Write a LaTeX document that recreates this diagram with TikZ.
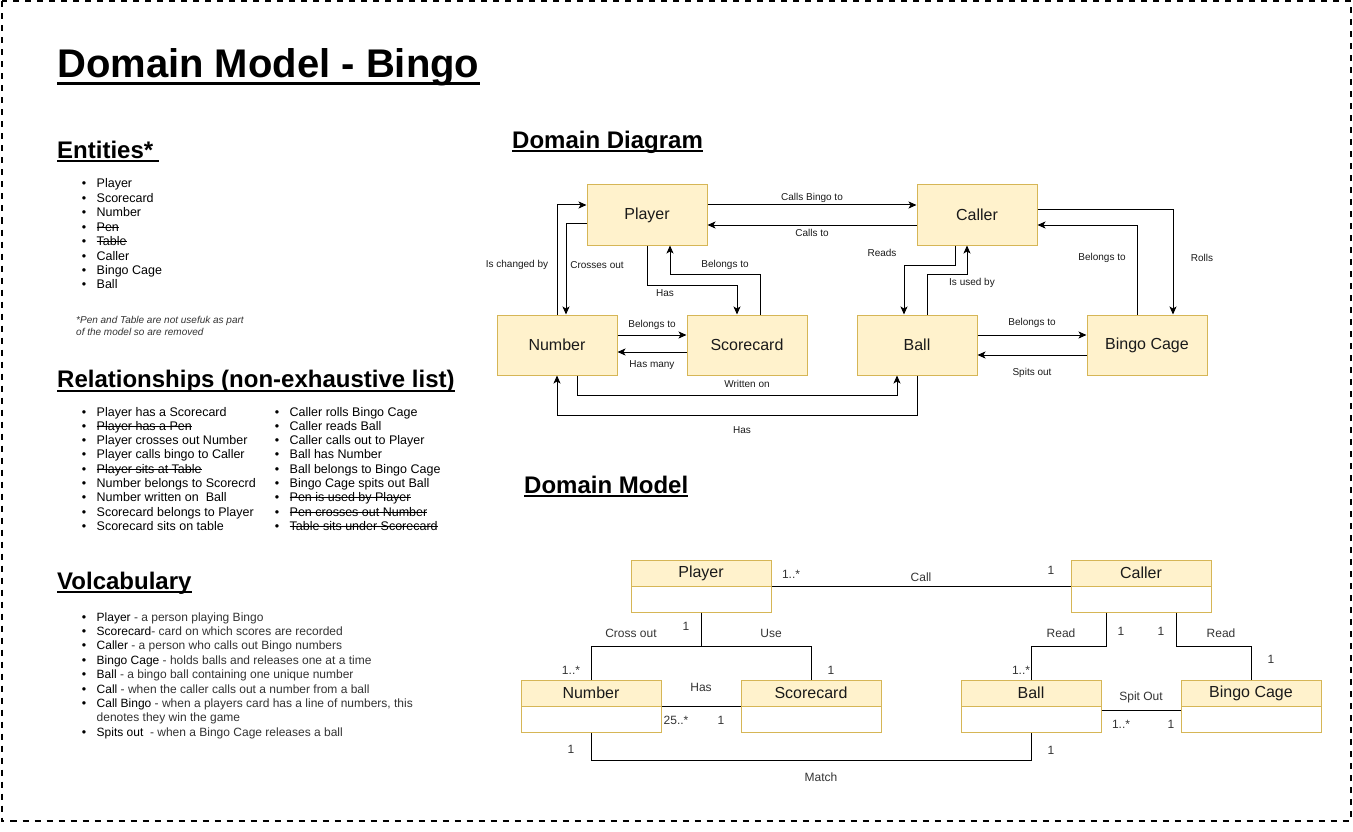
\documentclass[tikz,border=0pt]{standalone}
\usepackage{fontspec}
\setmainfont{Liberation Sans}
\usetikzlibrary{arrows.meta}
\definecolor{boxfill}{HTML}{FFF2CC}
\definecolor{boxdraw}{HTML}{D6B656}
\definecolor{txt}{HTML}{1A1A1A}
\definecolor{gtxt}{HTML}{333333}
\newcommand\strk[1]{\setbox0\hbox{#1}\rlap{\copy0}\rule[0.27em]{\wd0}{0.075em}}
\tikzset{
 ddbox/.style={draw=boxdraw, fill=boxfill, line width=1pt, minimum width=120pt, minimum height=60pt, inner sep=0pt, font=\fontsize{16pt}{19pt}\selectfont, text=txt},
 arr/.style={-{Stealth[length=8pt,width=7pt,inset=2pt]}, line width=1pt},
 lbl/.style={font=\fontsize{10pt}{12pt}\selectfont, text=txt, inner sep=0pt},
 hdr/.style={draw=boxdraw, fill=boxfill, line width=1pt, minimum width=140pt, minimum height=26pt, inner sep=0pt, font=\fontsize{16pt}{19pt}\selectfont, text=txt},
 bdy/.style={draw=boxdraw, fill=white, line width=1pt, minimum width=140pt, minimum height=26pt, inner sep=0pt},
 ulbl/.style={font=\fontsize{12pt}{14pt}\selectfont, text=gtxt, inner sep=0pt},
 uline/.style={line width=1pt},
 head/.style={anchor=base west, inner sep=0pt, font=\bfseries\fontsize{24pt}{28pt}\selectfont},
 li/.style={anchor=base west, inner sep=0pt, font=\fontsize{12.5pt}{15pt}\selectfont},
 bul/.style={anchor=base, inner sep=0pt, font=\fontsize{12.5pt}{15pt}\selectfont},
 vli/.style={anchor=base west, inner sep=0pt, font=\fontsize{12pt}{14pt}\selectfont},
}
\begin{document}
\begin{tikzpicture}[x=1pt,y=-1pt]
\useasboundingbox (0,0) rectangle (1353,832);
\draw[line width=2pt, dash pattern=on 6pt off 6pt] (1.5,1.5) rectangle (1351,820.5);

% ---------- Title ----------
\node[anchor=base west, inner sep=0pt, font=\bfseries\fontsize{40pt}{46pt}\selectfont] (title) at (57,77.3) {Domain Model - Bingo};
\draw[line width=3pt] ([yshift=-6pt]title.base west) -- ([yshift=-6pt]title.base east);

% ---------- Entities ----------
\node[head] (hent) at (57,158.3) {Entities*};
\draw[line width=2pt] ([yshift=-2.5pt]hent.base west) -- ([yshift=-2.5pt,xshift=6pt]hent.base east);
\foreach [count=\i] \t in {Player,Scorecard,Number,\strk{Pen},\strk{Table},Caller,Bingo Cage,Ball}{
  \pgfmathsetmacro\yy{188+14.4*(\i-1)}
  \node[bul] (eb\i) at (84,\yy) {\textbullet};
  \node[li] (et\i) at (96.5,\yy) {\t};
}
\node[anchor=base west, inner sep=0pt, font=\itshape\fontsize{10pt}{12pt}\selectfont, text=gtxt] (fn1) at (76,323.5) {*Pen and Table are not usefuk as part};
\node[anchor=base west, inner sep=0pt, font=\itshape\fontsize{10pt}{12pt}\selectfont, text=gtxt] (fn2) at (76,335) {of the model so are removed};

% ---------- Relationships ----------
\node[head] (hrel) at (57,387.7) {Relationships (non-exhaustive list)};
\draw[line width=2pt] ([yshift=-3pt]hrel.base west) -- ([yshift=-3pt]hrel.base east);
\foreach [count=\i] \t in {Player has a Scorecard,\strk{Player has a Pen},Player crosses out Number,Player calls bingo to Caller,\strk{Player sits at Table},Number belongs to Scorecrd,Number written on\ \ Ball,Scorecard belongs to Player,Scorecard sits on table}{
  \pgfmathsetmacro\yy{416+14.3*(\i-1)}
  \node[bul] (rlb\i) at (84,\yy) {\textbullet};
  \node[li] (rlt\i) at (96.5,\yy) {\t};
}
\foreach [count=\i] \t in {Caller rolls Bingo Cage,Caller reads Ball,Caller calls out to Player,Ball has Number,Ball belongs to Bingo Cage,Bingo Cage spits out Ball,\strk{Pen is used by Player},\strk{Pen crosses out Number},\strk{Table sits under Scorecard}}{
  \pgfmathsetmacro\yy{416+14.3*(\i-1)}
  \node[bul] (rrb\i) at (277,\yy) {\textbullet};
  \node[li] (rrt\i) at (289.5,\yy) {\t};
}

% ---------- Vocabulary ----------
\node[head] (hvoc) at (57,589.3) {Volcabulary};
\draw[line width=2pt] ([yshift=-3pt]hvoc.base west) -- ([yshift=-3pt]hvoc.base east);
\foreach [count=\i] \a/\b in {Player\ /{- a person playing Bingo},Scorecard/{- card on which scores are recorded},Caller\ /{- a person who calls out Bingo numbers},Bingo Cage\ /{- holds balls and releases one at a time},Ball\ /{- a bingo ball containing one unique number},Call\ /{- when the caller calls out a number from a ball},Call Bingo\ /{- when a players card has a line of numbers, this}}{
  \pgfmathsetmacro\yy{621+14.4*(\i-1)}
  \node[bul] (vb\i) at (84,\yy) {\textbullet};
  \node[vli] (vt\i) at (96.5,\yy) {\a\textcolor{gtxt}{\b}};
}
\node[vli, text=gtxt] (vt8) at (96.5,721.8) {denotes they win the game};
\node[bul] (vb9) at (84,736.2) {\textbullet};
\node[vli] (vt9) at (96.5,736.2) {Spits out\ \ \textcolor{gtxt}{- when a Bingo Cage releases a ball}};

% ---------- Domain Diagram ----------
\node[head] (hdd) at (512,148.3) {Domain Diagram};
\draw[line width=2pt] ([yshift=-2.7pt]hdd.base west) -- ([yshift=-2.7pt]hdd.base east);

\node[ddbox] (pl) at (647,215) {Player};
\node[ddbox] (cl) at (977,215) {Caller};
\node[ddbox] (nu) at (557,345) {Number};
\node[ddbox] (sc) at (747,345) {Scorecard};
\node[ddbox] (ba) at (917,345) {Ball};
\node[ddbox] (bc) at (1147,345) {Bingo Cage};

\draw[arr] ([yshift=10pt]pl.east) -- ([yshift=10pt]cl.west);
\draw[arr] ([yshift=-10pt]cl.west) -- ([yshift=-10pt]pl.east);
\draw[arr] ([yshift=-8pt]pl.west) -| ([xshift=9pt]nu.north);
\draw[arr] (nu.north) |- ([yshift=10pt]pl.west);
\draw[arr] (pl.south) -- ++(0,40) -| ([xshift=-10pt]sc.north);
\draw[arr] ([xshift=13pt]sc.north) -- ++(0,-40) -| ([xshift=23pt]pl.south);
\draw[arr] ([yshift=10pt]nu.east) -- ([yshift=10pt]sc.west);
\draw[arr] ([yshift=-7pt]sc.west) -- ([yshift=-7pt]nu.east);
\draw[arr] ([xshift=20pt]nu.south) -- ++(0,20) -| ([xshift=-20pt]ba.south);
\draw[arr] (ba.south) -- ++(0,40) -| (nu.south);
\draw[arr] ([xshift=-22pt]cl.south) -- ++(0,20) -| ([xshift=-13pt]ba.north);
\draw[arr] ([xshift=10pt]ba.north) -- ++(0,-40) -| ([xshift=-10pt]cl.south);
\draw[arr] ([yshift=10pt]ba.east) -- ([yshift=10pt]bc.west);
\draw[arr] ([yshift=-10pt]bc.west) -- ([yshift=-10pt]ba.east);
\draw[arr] ([xshift=-10pt]bc.north) |- ([yshift=-10pt]cl.east);
\draw[arr] ([yshift=5pt]cl.east) -| ([xshift=26pt]bc.north);

\node[lbl] (l1) at (812,198) {Calls Bingo to};
\node[lbl] (l2) at (812,233) {Calls to};
\node[lbl] (l3) at (517,265) {Is changed by};
\node[lbl] (l4) at (597,265) {Crosses out};
\node[lbl] (l5) at (665,293) {Has};
\node[lbl] (l6) at (725,265) {Belongs to};
\node[lbl] (l7) at (652,325) {Belongs to};
\node[lbl] (l8) at (652,365) {Has many};
\node[lbl] (l9) at (747,384) {Written on};
\node[lbl] (l10) at (742,430) {Has};
\node[lbl] (l11) at (882,253) {Reads};
\node[lbl] (l12) at (972,283) {Is used by};
\node[lbl] (l13) at (1032,323) {Belongs to};
\node[lbl] (l14) at (1032,373) {Spits out};
\node[lbl] (l15) at (1102,258) {Belongs to};
\node[lbl] (l16) at (1202,258) {Rolls};

% ---------- Domain Model ----------
\node[head] (hdm) at (524,493) {Domain Model};
\draw[line width=2pt] ([yshift=-2.7pt]hdm.base west) -- ([yshift=-2.7pt]hdm.base east);

\node[bdy] (mpb) at (701,599) {};
\node[hdr] (mp) at (701,573) {Player};
\node[bdy] (mcb) at (1141,599) {};
\node[hdr] (mc) at (1141,573) {Caller};
\node[bdy] (mnb) at (591,719) {};
\node[hdr] (mn) at (591,693) {Number};
\node[bdy] (msb) at (811,719) {};
\node[hdr] (ms) at (811,693) {Scorecard};
\node[bdy] (mbab) at (1031,719) {};
\node[hdr] (mba) at (1031,693) {Ball};
\node[bdy] (mbcb) at (1251,719) {};
\node[hdr] (mbc) at (1251,693) {Bingo Cage};

\draw[uline] (mp.south east) -- (mc.south west);
\draw[uline] (mpb.south) -- ++(0,34) -| (mn.north);
\draw[uline] (mpb.south) -- ++(0,34) -| (ms.north);
\draw[uline] (mn.south east) -- (ms.south west);
\draw[uline] (mnb.south) -- ++(0,28) -| (mbab.south);
\draw[uline] ([xshift=-35pt]mcb.south) -- ++(0,34) -| (mba.north);
\draw[uline] ([xshift=35pt]mcb.south) -- ++(0,34) -| (mbc.north);
\draw[uline] ([yshift=-4pt]mba.south east) -- ([yshift=-4pt]mbc.south west);

\node[ulbl] (u1) at (921,577) {Call};
\node[ulbl] (u2) at (791,574) {1..*};
\node[ulbl] (u3) at (1051,570) {1};
\node[ulbl] (u4) at (631,633) {Cross out};
\node[ulbl] (u5) at (686,626) {1};
\node[ulbl] (u6) at (571,670) {1..*};
\node[ulbl] (u7) at (771,633) {Use};
\node[ulbl] (u8) at (831,670) {1};
\node[ulbl] (u9) at (701,687) {Has};
\node[ulbl] (u10) at (676,720) {25..*};
\node[ulbl] (u11) at (721,720) {1};
\node[ulbl] (u12) at (821,777) {Match};
\node[ulbl] (u13) at (571,749) {1};
\node[ulbl] (u14) at (1051,750) {1};
\node[ulbl] (u15) at (1061,633) {Read};
\node[ulbl] (u16) at (1121,631) {1};
\node[ulbl] (u17) at (1021,670) {1..*};
\node[ulbl] (u18) at (1221,633) {Read};
\node[ulbl] (u19) at (1161,631) {1};
\node[ulbl] (u20) at (1271,659) {1};
\node[ulbl] (u21) at (1141,697) {Spit Out};
\node[ulbl] (u22) at (1121,724) {1..*};
\node[ulbl] (u23) at (1171,724) {1};
\end{tikzpicture}
\end{document}
